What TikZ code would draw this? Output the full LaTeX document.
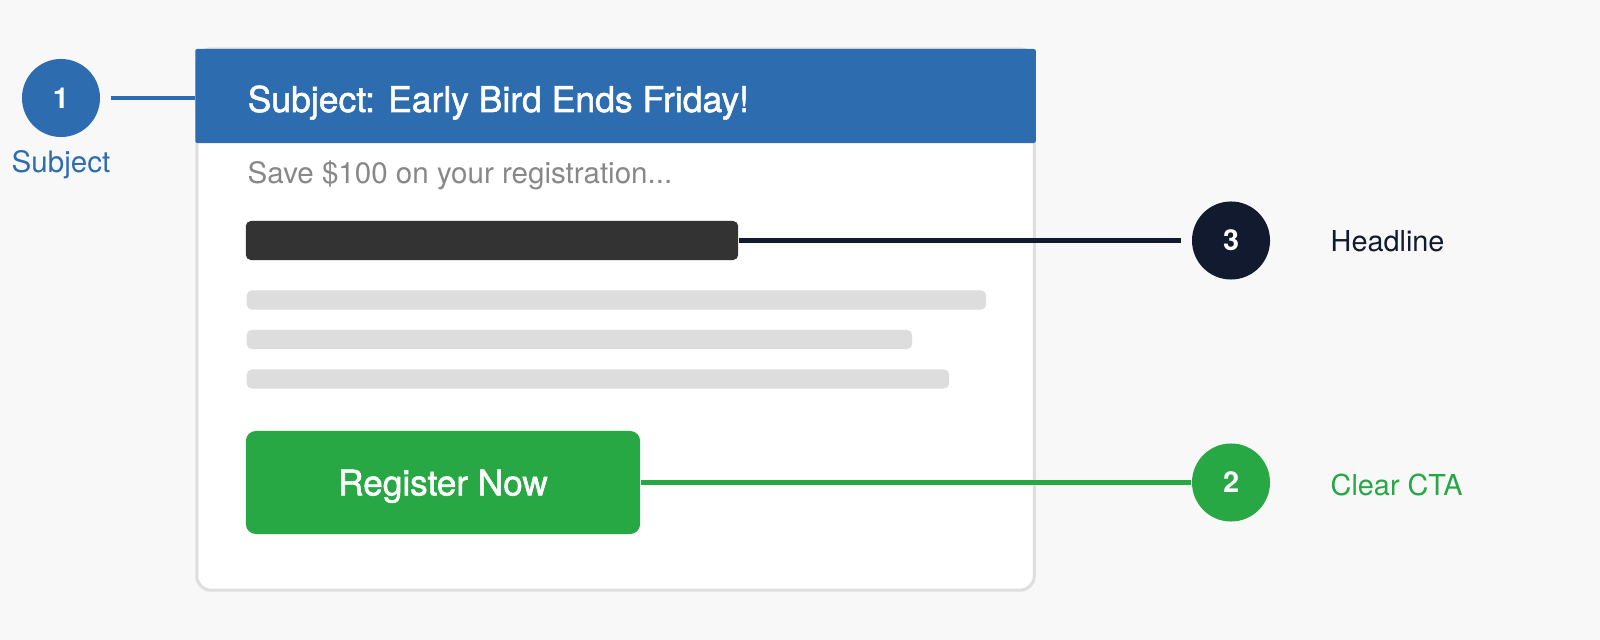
\documentclass[tikz,border=0pt]{standalone}
\usepackage{fontspec}
\setmainfont{TeX Gyre Heros}

\definecolor{bluehead}{RGB}{46,108,176}
\definecolor{ctagreen}{RGB}{40,167,69}
\definecolor{navy}{RGB}{17,26,46}
\definecolor{darkbar}{RGB}{51,51,51}
\definecolor{lightbar}{RGB}{221,221,221}
\definecolor{pagebg}{RGB}{248,248,248}
\definecolor{cardline}{RGB}{222,222,222}
\definecolor{subgray}{RGB}{136,136,136}

\tikzset{
    card/.style={draw=cardline, line width=0.03cm, fill=white, rounded corners=0.14cm,
        minimum width=8.37cm, minimum height=5.41cm},
    header/.style={fill=bluehead, rounded corners=0.02cm, minimum width=8.40cm, minimum height=0.94cm},
    bar/.style={rounded corners=0.05cm, minimum height=0.19cm},
    button/.style={fill=ctagreen, rounded corners=0.1cm, text=white, text depth=0pt,
        minimum width=3.94cm, minimum height=1.03cm,
        font=\fontsize{10}{12}\selectfont\addfontfeature{FakeBold=1.5}},
    marker/.style={circle, minimum size=0.78cm, text=white, font=\bfseries\fontsize{8.2}{10}\selectfont},
    tag/.style={anchor=base west, font=\fontsize{8.2}{10}\selectfont},
    callout/.style={line width=0.045cm},
}

\begin{document}
\begin{tikzpicture}[x=0.01cm, y=-0.01cm]

    \fill[pagebg] (0,0) rectangle (1600,640);
    \useasboundingbox (0,0) rectangle (1600,640);

    % the mail
    \begin{scope}[every node/.style={inner sep=0pt}]
        \node[card] (card) at (615.5,319.5) {};
        \node[header] (head) at (615.5,96) {};
        \node[anchor=base west, text=white, font=\fontsize{10.1}{12}\selectfont\addfontfeature{FakeBold=1.5}] (subj) at (247,112) {Subject: Early Bird Ends Friday!};
        \node[anchor=base west, text=subgray, font=\fontsize{8.4}{10}\selectfont] (pre) at (247,184) {Save \$100 on your registration...};

        \node[bar, fill=darkbar, minimum width=4.92cm, minimum height=0.39cm] (hl) at (492,240.5) {};
        \node[bar, fill=lightbar, anchor=west, minimum width=7.39cm] (t1) at (246,300) {};
        \node[bar, fill=lightbar, anchor=west, minimum width=6.65cm] (t2) at (246,339.5) {};
        \node[bar, fill=lightbar, anchor=west, minimum width=7.02cm] (t3) at (246,379) {};

        \node[button] (cta) at (443,482.5) {Register Now};
    \end{scope}

    % markers
    \begin{scope}[every node/.style={inner sep=0pt}]
        \node[marker, fill=bluehead] (m1) at (61,98) {1};
        \node[marker, fill=ctagreen] (m2) at (1231,482.5) {2};
        \node[marker, fill=navy] (m3) at (1231,240.5) {3};

        \node[anchor=base, text=bluehead, font=\fontsize{8.4}{10}\selectfont] (l1) at (61,173) {Subject};
        \node[tag, text=ctagreen] (l2) at (1330,495) {Clear CTA};
        \node[tag, text=navy] (l3) at (1330,252) {Headline};
    \end{scope}

    % callouts
    \draw[callout, draw=bluehead, shorten <=0.1cm] (m1) -- (m1 -| card.west);
    \draw[callout, draw=navy, shorten >=0.1cm] (hl.east) -- (hl.east -| m3.west);
    \draw[callout, draw=ctagreen] (cta.east) -- (cta.east -| m2.west);

\end{tikzpicture}
\end{document}
